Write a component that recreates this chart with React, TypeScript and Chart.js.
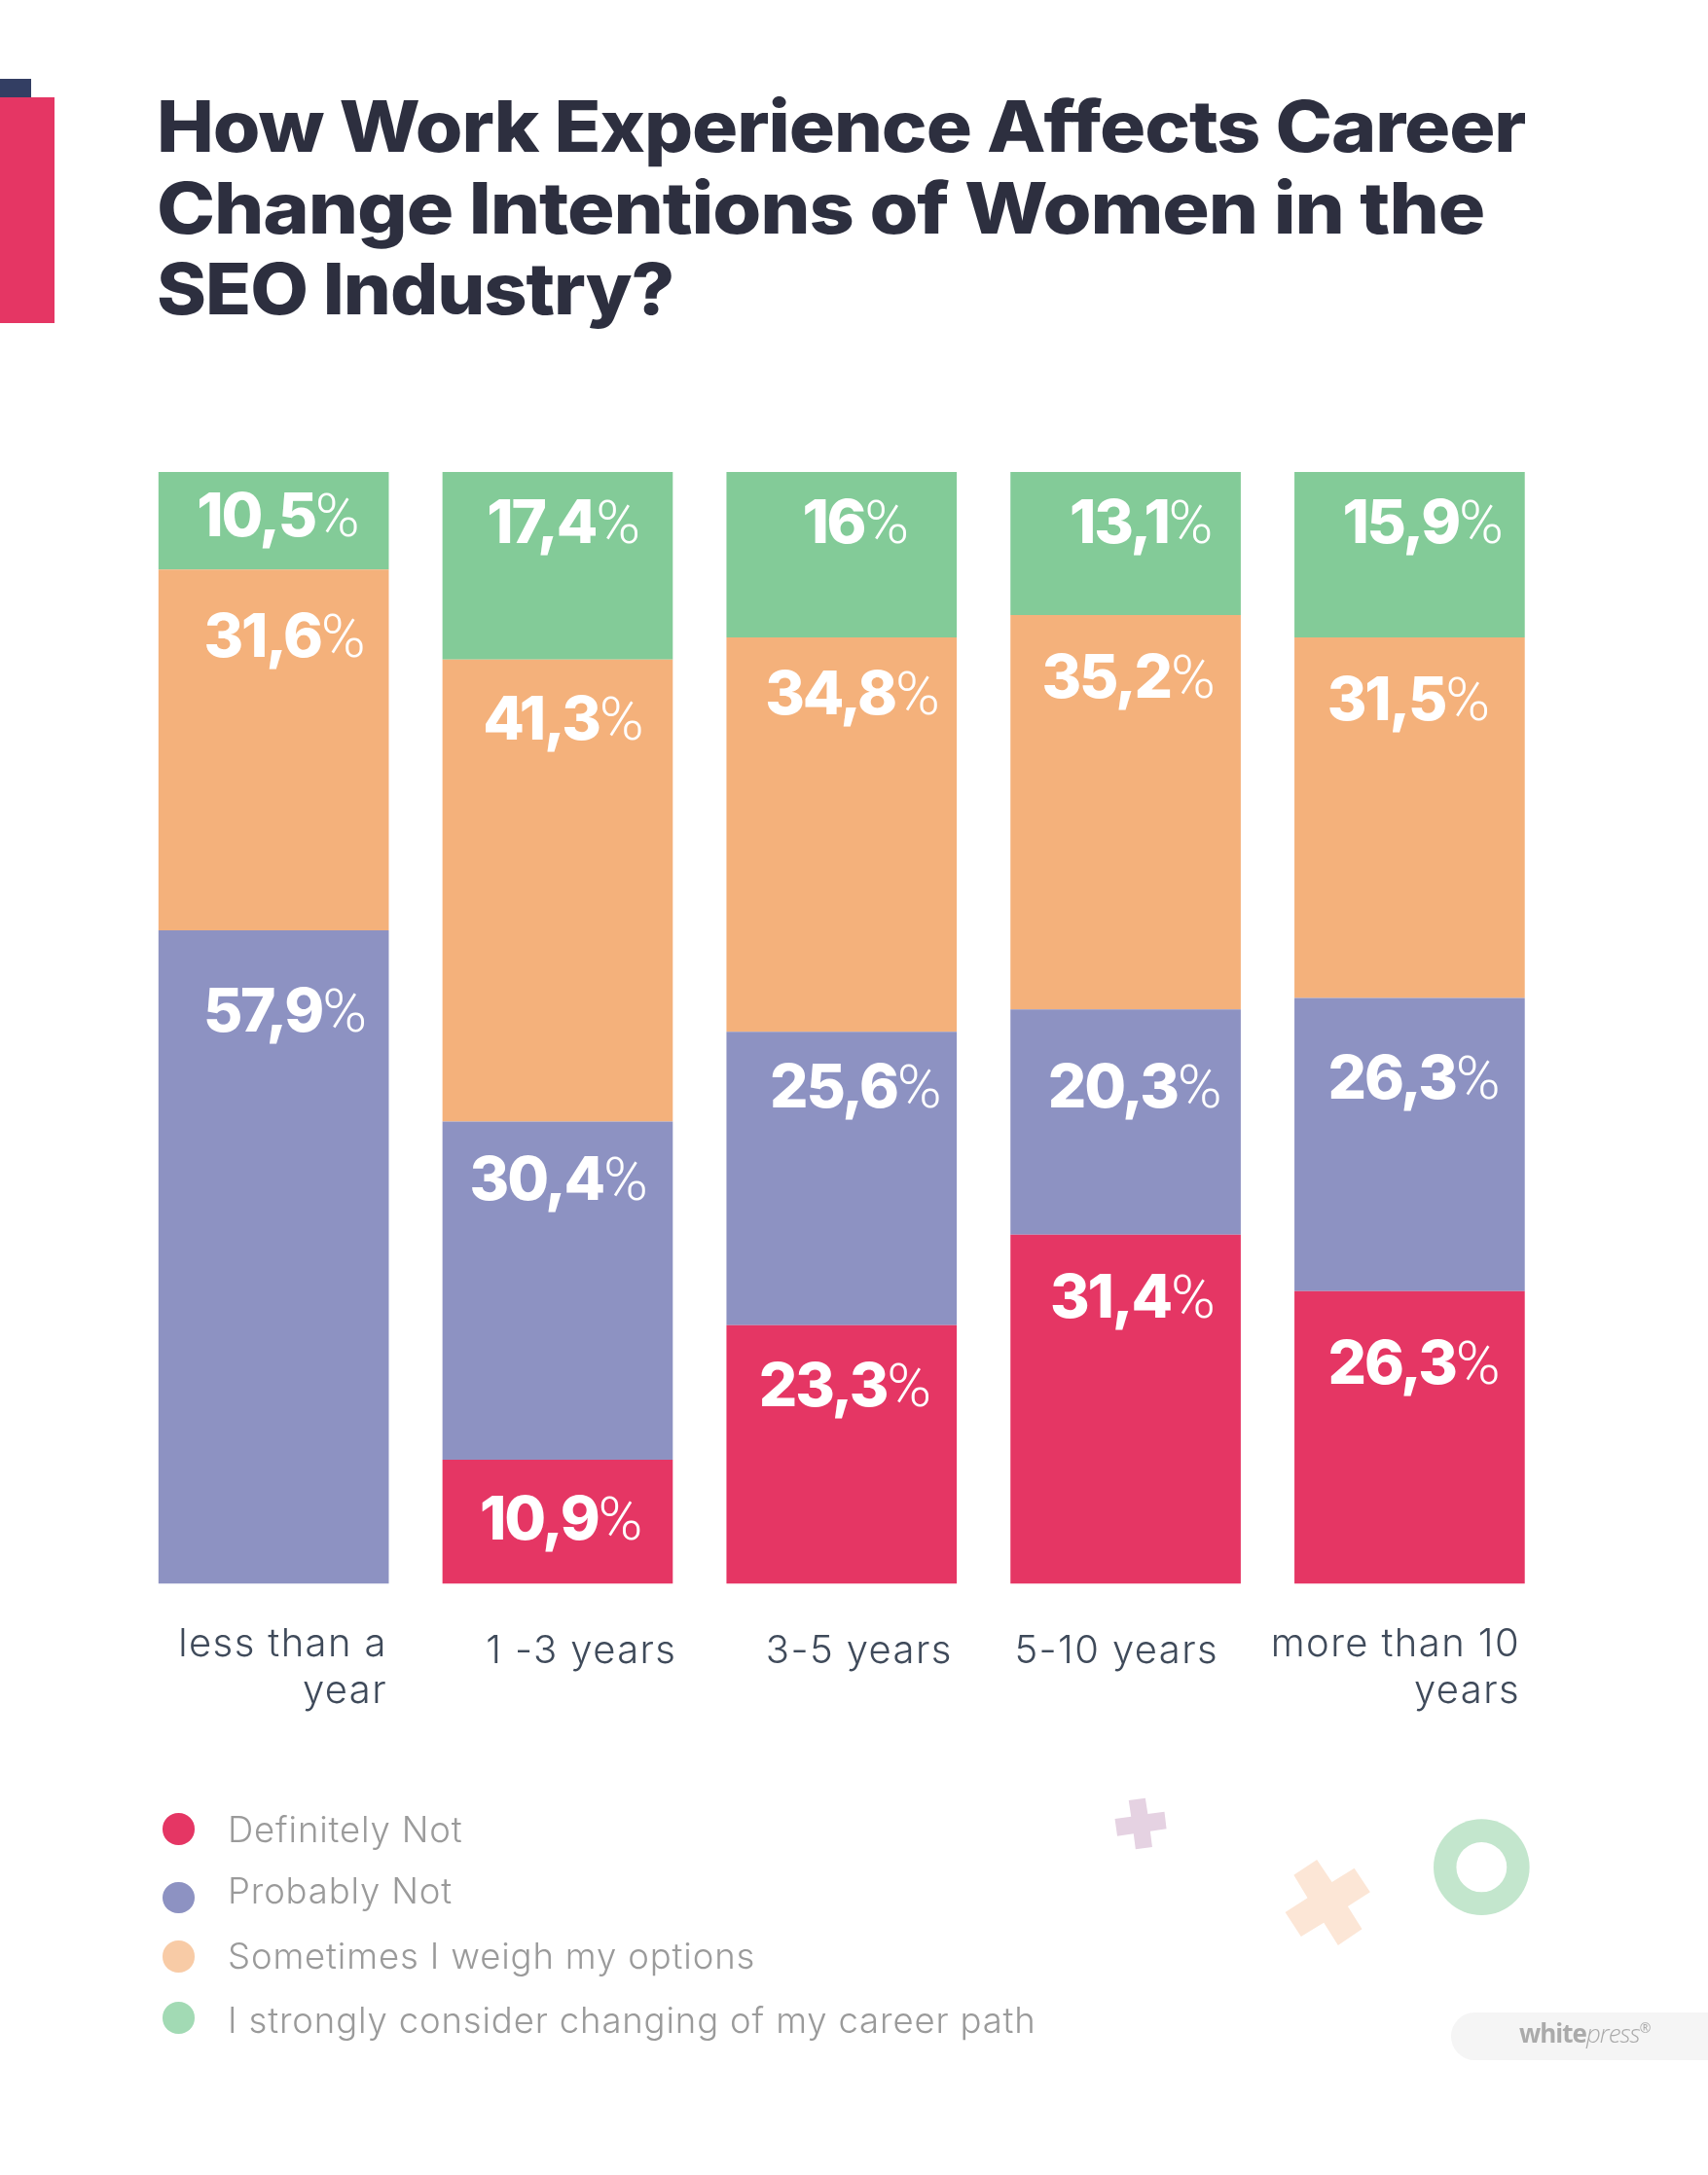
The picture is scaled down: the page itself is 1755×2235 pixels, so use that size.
import { useEffect, useRef } from 'react'
import { Chart, registerables } from 'chart.js'

Chart.register(...registerables)

const categories = ['less than a year', '1 -3 years', '3-5 years', '5-10 years', 'more than 10 years']
const tickLines = [['less than a', 'year'], ['1 -3 years'], ['3-5 years'], ['5-10 years'], ['more than 10', 'years']]

// segment heights as drawn in the picture (they differ a little from the printed labels)
const definitelyNot = [0, 11.15, 23.27, 31.41, 26.33]
const probablyNot = [58.77, 30.42, 26.38, 20.25, 26.37]
const sometimes = [32.46, 41.55, 35.47, 35.47, 32.43]
const strongly = [8.77, 16.88, 14.87, 12.86, 14.87]

// printed labels
const definitelyNotLabels = ['', '10,9%', '23,3%', '31,4%', '26,3%']
const probablyNotLabels = ['57,9%', '30,4%', '25,6%', '20,3%', '26,3%']
const sometimesLabels = ['31,6%', '41,3%', '34,8%', '35,2%', '31,5%']
const stronglyLabels = ['10,5%', '17,4%', '16%', '13,1%', '15,9%']

const seriesNames = ['Definitely Not', 'Probably Not', 'Sometimes I weigh my options', 'I strongly consider changing of my career path']
const barColors = ['#e53664', '#8d92c2', '#f4b17b', '#83cb98']
const legendDots = ['#e53664', '#8d92c2', '#f8cba6', '#a2dab4']

// label placement per dataset and bar: distance in from the bar's right edge, distance down from the segment top
const labelInset = [
  [0, 34, 29, 29.2, 28.1],
  [25.5, 28.4, 18.4, 22.3, 28.1],
  [26.8, 32.6, 20.3, 29.2, 38.7],
  [32.8, 36.3, 51.9, 31.5, 24.9],
]
const labelDrop = [
  [0, 81.9, 83, 85.3, 95],
  [104.1, 80.4, 77.8, 100.8, 103.5],
  [90, 82.2, 79.2, 85.4, 85.3],
  [66.2, 73, 73, 73, 73],
]
const tickRightOffset = [116.8, 122.4, 114, 95.4, 113.6]
const tickFirstBaseline = [1701.7, 1709.3, 1709.3, 1709.3, 1702]

const legendDotY = [1879.7, 1950, 2010.3, 2073.7]
const legendTextBaseline = [1892.7, 1956, 2023.3, 2089.3]

const titleLines = ['How Work Experience Affects Career', 'Change Intentions of Women in the', 'SEO Industry?']
const titleBaselines = [155, 239, 321.7]
// Poppins isn't installed, each title line is stretched to its original width
const titleStretch = [1.078, 1.108, 1.06]

const segmentLabels = {
  id: 'segmentLabels',
  afterDatasetsDraw(chart: any) {
    const { ctx } = chart
    const printed = [definitelyNotLabels, probablyNotLabels, sometimesLabels, stronglyLabels]
    ctx.save()
    ctx.fillStyle = '#ffffff'
    ctx.textBaseline = 'alphabetic'
    ctx.textAlign = 'right'
    chart.data.datasets.forEach((_: any, d: number) => {
      chart.getDatasetMeta(d).data.forEach((bar: any, i: number) => {
        const text = printed[d][i]
        if (!text) return
        const right = bar.x + bar.width / 2 - labelInset[d][i] + 3
        const baseline = bar.y + labelDrop[d][i]
        ctx.font = '300 62px Roboto'
        ctx.letterSpacing = '0px'
        ctx.fillText('%', right, baseline)
        const pct = ctx.measureText('%').width
        ctx.font = '800 62px Inter'
        ctx.letterSpacing = '-2.2px'
        ctx.fillText(text.replace('%', ''), right - pct, baseline)
      })
    })
    ctx.restore()
  },
}

const tickText = {
  id: 'tickText',
  afterDraw(chart: any) {
    const { ctx } = chart
    const x = chart.scales.x
    ctx.save()
    ctx.font = '300 40px Inter'
    ctx.letterSpacing = '1.4px'
    ctx.fillStyle = '#3f4a5a'
    ctx.textAlign = 'right'
    ctx.textBaseline = 'alphabetic'
    tickLines.forEach((lines, i) => {
      const right = x.getPixelForValue(i) + tickRightOffset[i]
      lines.forEach((line, n) => ctx.fillText(line, right, tickFirstBaseline[i] + n * 48))
    })
    ctx.restore()
  },
}

export default function App() {
  const canvasRef = useRef<HTMLCanvasElement | null>(null)

  useEffect(() => {
    if (!canvasRef.current) return
    const values = [definitelyNot, probablyNot, sometimes, strongly]
    const chart = new Chart(canvasRef.current, {
      type: 'bar',
      data: {
        labels: categories,
        datasets: seriesNames.map((name, i) => ({
          label: name,
          data: values[i],
          backgroundColor: barColors[i],
          borderWidth: 0,
          barPercentage: 0.811,
          categoryPercentage: 1,
        })),
      },
      options: {
        responsive: false,
        animation: false,
        devicePixelRatio: 1,
        layout: { padding: { left: 135.25, right: 160.7, top: 485, bottom: 607.5 } },
        scales: {
          x: { stacked: true, display: false },
          y: { stacked: true, display: false, min: 0, max: 100 },
        },
        plugins: { legend: { display: false }, tooltip: { enabled: false } },
      },
      plugins: [segmentLabels, tickText],
    })
    return () => chart.destroy()
  }, [])

  const abs = { position: 'absolute' as const, whiteSpace: 'nowrap' as const }

  return (
    <div style={{ position: 'absolute', left: 0, top: 0, width: 1755, height: 2235, background: '#fff', overflow: 'hidden' }}>
      <canvas ref={canvasRef} width={1755} height={2235} style={{ position: 'absolute', left: 0, top: 0 }} />

      <div style={{ ...abs, left: 0, top: 81, width: 32, height: 19, background: '#333e63' }} />
      <div style={{ ...abs, left: 0, top: 100, width: 55.5, height: 232, background: '#e53664' }} />

      {titleLines.map((line, i) => (
        <div
          key={line}
          style={{
            ...abs,
            left: 161,
            top: titleBaselines[i] - 70,
            height: 90,
            lineHeight: '90px',
            font: '800 73px Inter',
            color: '#2d2f3f',
            letterSpacing: -1,
            transform: `scaleX(${titleStretch[i]})`,
            transformOrigin: 'left center',
          }}
        >
          {line}
        </div>
      ))}

      {seriesNames.map((name, i) => (
        <div key={name}>
          <div
            style={{
              ...abs,
              left: 167.3,
              top: legendDotY[i] - 16.3,
              width: 32.6,
              height: 32.6,
              borderRadius: '50%',
              background: legendDots[i],
            }}
          />
          <div
            style={{
              ...abs,
              left: 234,
              top: legendTextBaseline[i] - 36,
              font: '300 36.5px Inter',
              lineHeight: '46px',
              letterSpacing: 0.85,
              color: '#9a9a9a',
            }}
          >
            {name}
          </div>
        </div>
      ))}

      <svg
        viewBox="0 0 1568 1050"
        preserveAspectRatio="none"
        style={{ position: 'absolute', left: 1100, top: 1800, width: 655, height: 350 }}
      >
        <polygon
          fill="#e5d2e2"
          points="143,150 184,143 190,192 231,185 236,238 196,245 201,294 160,301 155,253 115,260 109,207 149,200"
        />
        <polygon
          fill="#fce6d6"
          points="606,333 643,402 698,359 737,433 682,477 717,547 658,597 623,527 567,570 528,495 583,451 549,380"
        />
        <ellipse cx={1011} cy={356} rx={118} ry={148} fill="#c3e6cd" />
        <ellipse cx={1011} cy={356} rx={62} ry={77} fill="#ffffff" />
      </svg>

      <div
        style={{
          ...abs,
          left: 1491.4,
          top: 2067.7,
          width: 300,
          height: 49,
          borderRadius: 24.5,
          background: '#f5f5f5',
        }}
      />
      <div
        style={{
          ...abs,
          left: 1561,
          top: 2072,
          font: '26px "Open Sans"',
          lineHeight: '34px',
          color: '#aaaaaa',
          letterSpacing: -1,
        }}
      >
        <b>white</b>
        <i style={{ fontWeight: 300 }}>press</i>
        <sup style={{ fontSize: 14, lineHeight: 0 }}>®</sup>
      </div>
    </div>
  )
}
